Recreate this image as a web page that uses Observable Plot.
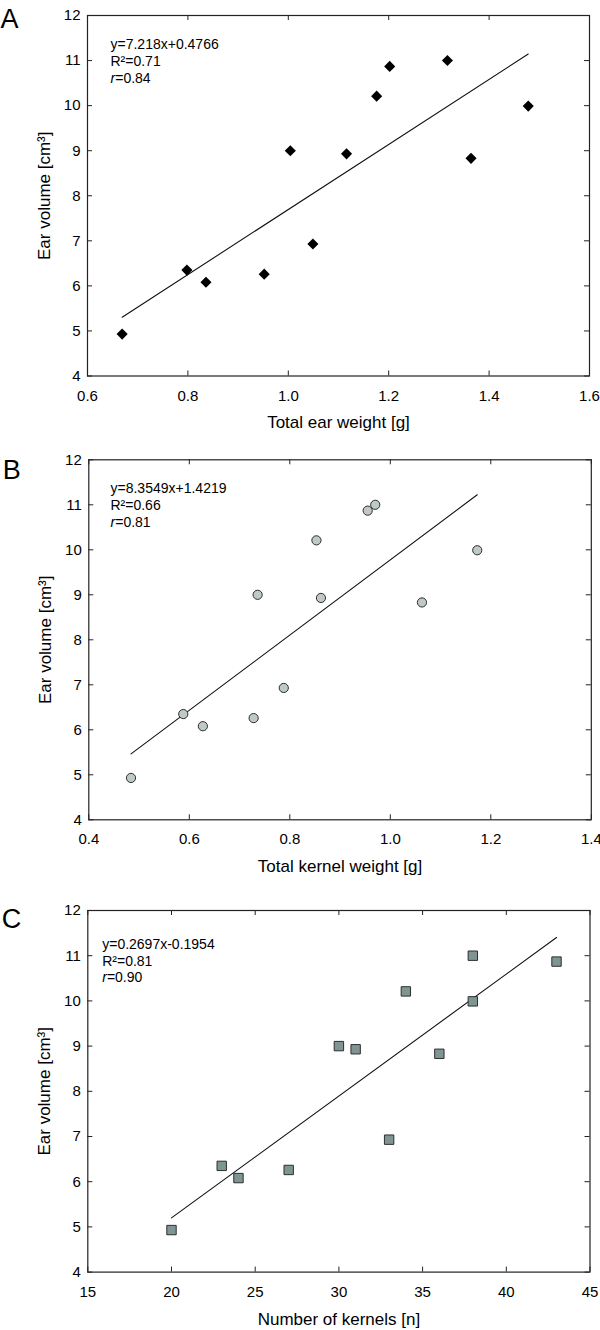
<!DOCTYPE html>
<html><head><meta charset="utf-8">
<script src="https://cdn.jsdelivr.net/npm/d3@7"></script>
<script src="https://cdn.jsdelivr.net/npm/@observablehq/plot@0.6"></script>
<style>
body{margin:0;background:#fff;}
#wrap{position:relative;width:600px;height:1330px;background:#fff;}
.panel{position:absolute;left:0;}
</style></head><body><div id="wrap"></div>
<script>
// ---- data ----
const earVolume    = [4.93, 6.35, 6.08, 6.26, 9.0, 6.93, 8.93, 10.21, 10.87, 11.0, 8.83, 9.99];
const earWeight    = [0.669, 0.798, 0.836, 0.952, 1.004, 1.049, 1.116, 1.176, 1.202, 1.317, 1.364, 1.478];
const kernelWeight = [0.484, 0.588, 0.627, 0.728, 0.736, 0.788, 0.862, 0.853, 0.955, 0.970, 1.063, 1.173];
const kernelCount  = [20, 23, 24, 27, 30, 33, 31, 34, 43, 38, 36, 38];
const panelLetters = ["A", "B", "C"];
const xTitles = ["Total ear weight [g]", "Total kernel weight [g]", "Number of kernels [n]"];
const yTitle = "Ear volume [cm³]";
const slopes = [7.218, 8.3549, 0.2697];
const intercepts = [0.4766, 1.4219, -0.1954];
const equations = ["y=7.218x+0.4766", "y=8.3549x+1.4219", "y=0.2697x-0.1954"];
const r2Labels = ["R²=0.71", "R²=0.66", "R²=0.81"];
const rLabels = ["=0.84", "=0.81", "=0.90"];
const xTicksA = [0.6, 0.8, 1.0, 1.2, 1.4, 1.6];
const xTicksB = [0.4, 0.6, 0.8, 1.0, 1.2, 1.4];
const xTicksC = [15, 20, 25, 30, 35, 40, 45];
const yTicks = [4, 5, 6, 7, 8, 9, 10, 11, 12];

// ---- layout / style ----
const FONT = "'Liberation Sans', Arial, Helvetica, sans-serif";
const panels = [
  {top: 0, height: 445, mt: 15, mb: 69.5, ml: 87, mr: 11, xs: earWeight, xTicks: xTicksA, fmt: d3.format(".1f"),
   marker: {symbol: "diamond2", r: 5, fill: "#000", stroke: "none"}, eq: {dx: 23, dy: [33, 50, 67]}, letter: {dx: -87, dy: 12}},
  {top: 445, height: 452, mt: 14.3, mb: 77.7, ml: 88.3, mr: 9.2, xs: kernelWeight, xTicks: xTicksB, fmt: d3.format(".1f"),
   marker: {symbol: "circle", r: 4.6, fill: "#bfcac7", stroke: "#2e2e2e", strokeWidth: 1}, eq: {dx: 21.7, dy: [33.4, 50, 66.7]}, letter: {dx: -86, dy: 19}},
  {top: 897, height: 433, mt: 13, mb: 58.4, ml: 87.3, mr: 10.5, xs: kernelCount, xTicks: xTicksC, fmt: d3.format("d"),
   marker: {symbol: "square", r: 5.3, fill: "#7f9594", stroke: "#2e2e2e", strokeWidth: 1}, eq: {dx: 14.4, dy: [38.3, 55, 71.7]}, letter: {dx: -86, dy: 17}}
];

const wrap = document.getElementById("wrap");
panels.forEach((p, k) => {
  const plotW = 600 - p.ml - p.mr;
  const plotH = p.height - p.mt - p.mb;
  const idx = d3.range(earVolume.length);
  const xmin = d3.min(p.xs), xmax = d3.max(p.xs);
  const chart = Plot.plot({
    width: 600, height: p.height,
    marginTop: p.mt, marginBottom: p.mb, marginLeft: p.ml, marginRight: p.mr,
    style: {fontFamily: FONT, fontSize: "15px", color: "#000", background: "transparent", overflow: "visible"},
    x: {domain: [p.xTicks[0], p.xTicks[p.xTicks.length - 1]]},
    y: {domain: [yTicks[0], yTicks[yTicks.length - 1]]},
    marks: [
      Plot.frame({stroke: "#222", strokeWidth: 1.2}),
      Plot.tickX(p.xTicks, {x: d => d, insetTop: plotH - 5, stroke: "#222", strokeWidth: 1}),
      Plot.tickX(p.xTicks, {x: d => d, insetBottom: plotH - 5, stroke: "#222", strokeWidth: 1}),
      Plot.tickY(yTicks, {y: d => d, insetRight: plotW - 5, stroke: "#222", strokeWidth: 1}),
      Plot.tickY(yTicks, {y: d => d, insetLeft: plotW - 5, stroke: "#222", strokeWidth: 1}),
      Plot.axisX({ticks: p.xTicks, tickSize: 0, tickPadding: 14, tickFormat: p.fmt, label: null, fontSize: 15}),
      Plot.axisY({ticks: yTicks, tickSize: 0, tickPadding: 7, label: null, fontSize: 15}),
      Plot.line([xmin, xmax], {x: d => d, y: d => slopes[k] * d + intercepts[k], stroke: "#111", strokeWidth: 1.1}),
      Plot.dot(idx, {x: i => p.xs[i], y: i => earVolume[i], ...p.marker}),
      Plot.text([equations[k]], {text: d => d, frameAnchor: "top-left", textAnchor: "start", lineAnchor: "bottom", dx: p.eq.dx, dy: p.eq.dy[0], fontSize: 14, fill: "#000"}),
      Plot.text([r2Labels[k]], {text: d => d, frameAnchor: "top-left", textAnchor: "start", lineAnchor: "bottom", dx: p.eq.dx, dy: p.eq.dy[1], fontSize: 14, fill: "#000"}),
      Plot.text(["r"], {text: d => d, frameAnchor: "top-left", textAnchor: "start", lineAnchor: "bottom", dx: p.eq.dx, dy: p.eq.dy[2], fontSize: 14, fontStyle: "italic", fill: "#000"}),
      Plot.text([rLabels[k]], {text: d => d, frameAnchor: "top-left", textAnchor: "start", lineAnchor: "bottom", dx: p.eq.dx + 4.7, dy: p.eq.dy[2], fontSize: 14, fill: "#000"}),
      Plot.text([panelLetters[k]], {text: d => d, frameAnchor: "top-left", textAnchor: "start", lineAnchor: "bottom", dx: p.letter.dx, dy: p.letter.dy, fontSize: 27, fill: "#000"}),
      Plot.text([yTitle], {text: d => d, frameAnchor: "left", rotate: -90, dx: -43, textAnchor: "middle", lineAnchor: "middle", fontSize: 17, fill: "#000"}),
      Plot.text([xTitles[k]], {text: d => d, frameAnchor: "bottom", dy: 47, textAnchor: "middle", lineAnchor: "middle", fontSize: 17, fill: "#000"})
    ]
  });
  const div = document.createElement("div");
  div.className = "panel";
  div.style.top = p.top + "px";
  div.appendChild(chart);
  wrap.appendChild(div);
});
</script></body></html>
